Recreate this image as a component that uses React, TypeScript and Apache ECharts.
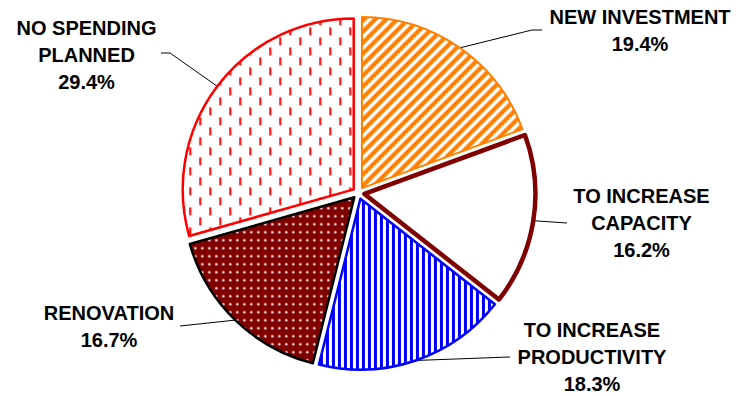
import React, { useEffect, useRef } from "react";
import * as echarts from "echarts";

// ---- data ----
const categories = [
  "NEW INVESTMENT",
  "TO INCREASE\nCAPACITY",
  "TO INCREASE\nPRODUCTIVITY",
  "RENOVATION",
  "NO SPENDING\nPLANNED",
];
const values = [19.4, 16.2, 18.3, 16.7, 29.4];

// ---- label layout (page pixels) ----
const labelCenters = [
  [640, 30],
  [641.5, 222.5],
  [592, 356.5],
  [109, 326],
  [86.5, 54.5],
];
const labelLineTails = [
  [[532, 30], [542, 30]],
  [[567, 223]],
  [[510, 357]],
  [[180, 326]],
  [[170, 53], [161, 53]],
];

const START_ANGLE = 90;
const SELECTED_OFFSET = 6;

function makePattern(w: number, h: number, draw: (ctx: CanvasRenderingContext2D) => void) {
  const c = document.createElement("canvas");
  c.width = w;
  c.height = h;
  const ctx = c.getContext("2d")!;
  draw(ctx);
  return { image: c.toDataURL(), repeat: "repeat", imageWidth: w, imageHeight: h } as any;
}

export default function App() {
  const ref = useRef<HTMLDivElement>(null);
  useEffect(() => {
    if (!ref.current) return;
    const chart = echarts.init(ref.current, undefined, { renderer: "svg" });

    const orange = makePattern(11, 11, (ctx) => {
      ctx.fillStyle = "#fff";
      ctx.fillRect(0, 0, 11, 11);
      ctx.strokeStyle = "#FF8000";
      ctx.lineWidth = 4.2;
      for (const k of [0, 11, 22]) {
        ctx.beginPath();
        ctx.moveTo(k - 13, 13);
        ctx.lineTo(k + 2, -2);
        ctx.stroke();
      }
    });
    const blue = makePattern(6, 6, (ctx) => {
      ctx.fillStyle = "#fff";
      ctx.fillRect(0, 0, 6, 6);
      ctx.fillStyle = "#0000FF";
      ctx.fillRect(0, 0, 3, 6);
    });
    const dots = makePattern(7, 8, (ctx) => {
      ctx.fillStyle = "#800000";
      ctx.fillRect(0, 0, 7, 8);
      ctx.fillStyle = "#f8e4e4";
      ctx.beginPath();
      ctx.arc(3.5, 4, 1.3, 0, Math.PI * 2);
      ctx.fill();
    });
    const dashes = makePattern(20, 20, (ctx) => {
      ctx.fillStyle = "#fff";
      ctx.fillRect(0, 0, 20, 20);
      ctx.fillStyle = "#FF1818";
      ctx.fillRect(4, 1, 2.2, 8);
      ctx.fillRect(14, 11, 2.2, 8);
    });

    const styles = [
      { color: orange, borderColor: "#FF8000", borderWidth: 2 },
      { color: "#ffffff", borderColor: "#800000", borderWidth: 4.5 },
      { color: blue, borderColor: "#0000FF", borderWidth: 2.5 },
      { color: dots, borderColor: "#000000", borderWidth: 2.5 },
      { color: dashes, borderColor: "#FF0000", borderWidth: 2.5 },
    ];

    // selected-offset direction of each slice (from the data's angles)
    const total = values.reduce((a, b) => a + b, 0);
    let acc = 0;
    const selOffsets = values.map((v) => {
      const mid = ((acc + v / 2) / total) * 2 * Math.PI;
      acc += v;
      const a = (START_ANGLE * Math.PI) / 180 - mid;
      return [Math.cos(a) * SELECTED_OFFSET, -Math.sin(a) * SELECTED_OFFSET];
    });

    chart.setOption({
      animation: false,
      series: [
        {
          type: "pie",
          center: [358.5, 193],
          radius: 171,
          startAngle: START_ANGLE,
          clockwise: true,
          selectedMode: "multiple",
          selectedOffset: SELECTED_OFFSET,
          avoidLabelOverlap: false,
          emphasis: { disabled: true },
          label: {
            show: true,
            position: "outside",
            color: "#000",
            fontFamily: "Liberation Sans, Arial, sans-serif",
            fontWeight: "bold",
            fontSize: 20,
            lineHeight: 27,
            formatter: (p: any) => `${p.name}\n${Number(p.value).toFixed(1)}%`,
          },
          labelLine: { show: true, lineStyle: { color: "#000", width: 1 } },
          labelLayout: (params: any) => {
            const i = params.dataIndex;
            const [tx, ty] = labelCenters[i];
            const [sx, sy] = selOffsets[i];
            const r = params.labelRect;
            const ax =
              params.align === "right"
                ? r.x + r.width
                : params.align === "center"
                ? r.x + r.width / 2
                : r.x;
            const ay =
              params.verticalAlign === "top"
                ? r.y
                : params.verticalAlign === "bottom"
                ? r.y + r.height
                : r.y + r.height / 2;
            const res: any = {
              align: "center",
              verticalAlign: "middle",
              dx: tx - ax - sx,
              dy: ty - ay - sy,
            };
            const start = params.labelLinePoints ? params.labelLinePoints[0] : null;
            if (start) {
              res.labelLinePoints = [
                start,
                ...labelLineTails[i].map((p) => [p[0] - sx, p[1] - sy]),
              ];
            }
            return res;
          },
          data: values.map((v, i) => ({
            name: categories[i],
            value: v,
            selected: true,
            itemStyle: styles[i],
          })),
        },
      ],
    });
    return () => chart.dispose();
  }, []);
  return (
    <div
      ref={ref}
      style={{ position: "absolute", left: 0, top: 0, width: 739, height: 396 }}
    />
  );
}
